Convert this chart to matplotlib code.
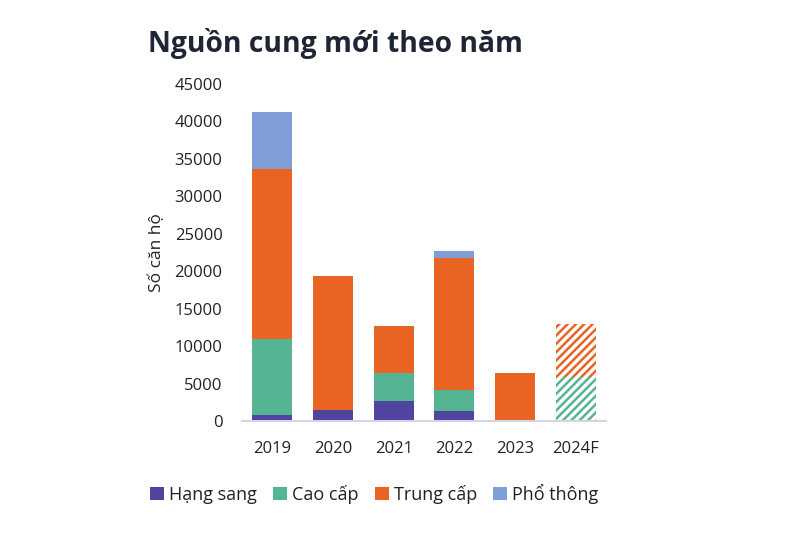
import matplotlib.pyplot as plt
import numpy as np

# Dữ liệu
years = ['2019', '2020', '2021', '2022', '2023', '2024F']
hang_sang = [800, 1500, 2700, 1330, 0, 200]
cao_cap = [10200, 0, 3660, 2800, 0, 5700]
trung_cap = [22600, 17900, 6270, 17620, 6400, 7050]
pho_thong = [7700, 0, 0, 940, 0, 0]
forecast = [False, False, False, False, False, True]

series = [('Hạng sang', hang_sang, '#4f449e'),
          ('Cao cấp', cao_cap, '#55b592'),
          ('Trung cấp', trung_cap, '#e96422'),
          ('Phổ thông', pho_thong, '#7f9fd6')]

plt.rcParams['font.family'] = ['Open Sans', 'DejaVu Sans']
plt.rcParams['hatch.linewidth'] = 1.8

fig = plt.figure(figsize=(8, 5.33), dpi=100)
ax = fig.add_axes([0.3025, 0.21, 0.455, 0.6324])

x = np.arange(len(years))
bottom = np.zeros(len(years))
for name, vals, col in series:
    vals = np.array(vals, dtype=float)
    for i in range(len(years)):
        if vals[i] <= 0:
            continue
        if forecast[i]:
            # năm dự báo: sọc chéo
            ax.bar(x[i], vals[i], 0.66, bottom=bottom[i], color='white',
                   edgecolor=col, hatch='////', linewidth=0)
        else:
            ax.bar(x[i], vals[i], 0.66, bottom=bottom[i], color=col, linewidth=0)
    ax.bar(0, 0, 0, color=col, label=name)
    bottom += vals

ax.set_xlim(-0.5, len(years) - 0.5)
ax.set_ylim(0, 45000)
ax.set_yticks(range(0, 45001, 5000))
ax.set_xticks(x)
ax.set_xticklabels(years)
ax.tick_params(axis='both', length=0, labelsize=12, colors='#222222')
ax.tick_params(axis='x', pad=14)
ax.tick_params(axis='y', pad=14)

for spine in ['top', 'right', 'left']:
    ax.spines[spine].set_visible(False)
ax.spines['bottom'].set_color('#d4d4e6')
ax.spines['bottom'].set_linewidth(1.5)

ax.set_ylabel('Số căn hộ', fontsize=12.5, color='#222222', labelpad=7)

fig.text(0.185, 0.918, 'Nguồn cung mới theo năm', fontsize=20.3, fontweight='bold',
         color='#1e2535', va='center', ha='left')

fig.legend(loc='center', bbox_to_anchor=(0.468, 0.073), ncol=4, frameon=False,
           fontsize=13, handlelength=0.75, handleheight=0.75, handletextpad=0.3,
           columnspacing=0.9, labelcolor='#222222')

fig.savefig('out.png', dpi=100)
